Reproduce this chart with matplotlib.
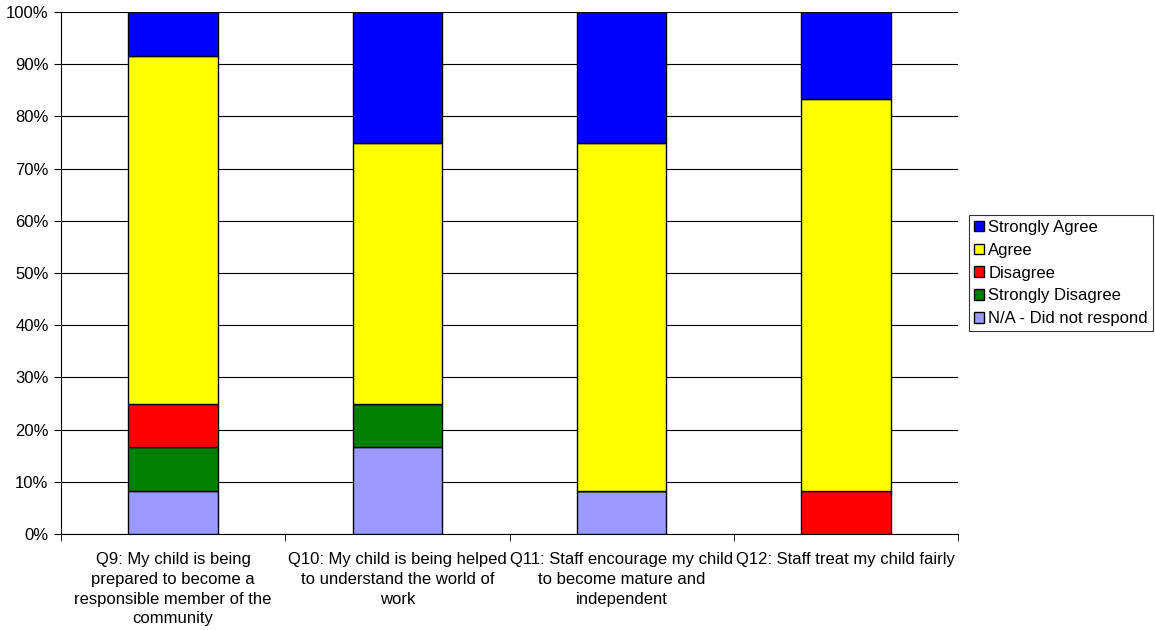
import matplotlib
matplotlib.use('Agg')
import matplotlib.pyplot as plt
import numpy as np
from matplotlib.ticker import PercentFormatter

plt.rcParams['font.family'] = ['Liberation Sans', 'DejaVu Sans']

categories = [
    'Q9: My child is being\nprepared to become a\nresponsible member of the\ncommunity',
    'Q10: My child is being helped\nto understand the world of\nwork',
    'Q11: Staff encourage my child\nto become mature and\nindependent',
    'Q12: Staff treat my child fairly',
]
# shares in percent, bottom to top
na_resp = [8.33, 16.67, 8.33, 0.0]
strongly_disagree = [8.33, 8.33, 0.0, 0.0]
disagree = [8.33, 0.0, 0.0, 8.33]
agree = [66.67, 50.0, 66.67, 75.0]
strongly_agree = [8.33, 25.0, 25.0, 16.67]

series = [
    ('N/A - Did not respond', na_resp, '#9999FF'),
    ('Strongly Disagree', strongly_disagree, '#008000'),
    ('Disagree', disagree, '#FF0000'),
    ('Agree', agree, '#FFFF00'),
    ('Strongly Agree', strongly_agree, '#0000FF'),
]

fig = plt.figure(figsize=(11.55, 6.3), dpi=100)
ax = fig.add_axes([61 / 1155, 1 - 534 / 630, (958 - 61) / 1155, (534 - 12) / 630])

x = np.arange(len(categories))
bottom = np.zeros(len(categories))
handles = []
for name, vals, col in series:
    vals = np.array(vals)
    b = ax.bar(x, vals, 0.4, bottom=bottom, color=col, edgecolor='black', linewidth=1, label=name, zorder=3)
    handles.append(b)
    bottom += vals

ax.set_xlim(-0.5, len(categories) - 0.5)
ax.set_ylim(0, 100)
ax.set_yticks(np.arange(0, 101, 10))
ax.yaxis.set_major_formatter(PercentFormatter(decimals=0))
ax.yaxis.grid(True, color='black', linewidth=0.8, zorder=0)
ax.set_axisbelow(True)

ax.set_xticks(x)
ax.set_xticklabels(categories, fontsize=12, linespacing=1.4)
ax.set_xticks(np.arange(-0.5, len(categories)), minor=True)
ax.tick_params(axis='x', which='major', length=0, pad=13)
ax.tick_params(axis='x', which='minor', length=5, direction='out')
ax.tick_params(axis='y', length=5, direction='out', labelsize=12, pad=4)

for s in ['top', 'right']:
    ax.spines[s].set_visible(False)
ax.spines['left'].set_color('black')
ax.spines['bottom'].set_color('black')

leg = ax.legend(handles[::-1], [s[0] for s in series][::-1], loc='center left',
                bbox_to_anchor=(969 / 1155, 1 - 273 / 630), bbox_transform=fig.transFigure,
                fontsize=12, frameon=True, fancybox=False, edgecolor='black',
                handlelength=0.6, handleheight=0.6, handletextpad=0.25,
                labelspacing=0.47, borderpad=0.3, borderaxespad=0)
leg.get_frame().set_linewidth(0.8)

fig.savefig('out.png', dpi=100)
